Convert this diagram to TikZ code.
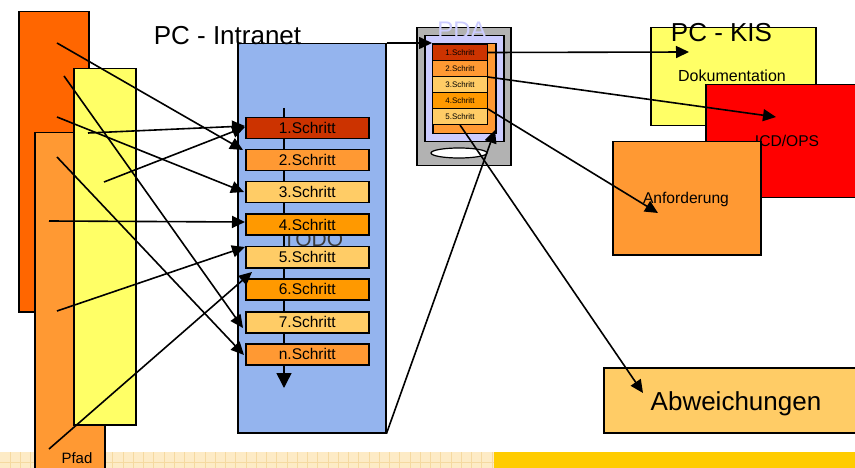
\documentclass[tikz,border=0pt]{standalone}
\usepackage{fontspec}
\setmainfont{Liberation Sans}
\usetikzlibrary{arrows.meta,shapes.geometric}
\definecolor{dorange}{HTML}{FF6600}
\definecolor{lorange}{HTML}{FF9933}
\definecolor{yell}{HTML}{FFFF66}
\definecolor{intrablue}{HTML}{94B4EE}
\definecolor{cone}{HTML}{CC3300}
\definecolor{cthree}{HTML}{FFCC66}
\definecolor{cfour}{HTML}{FF9900}
\definecolor{pdagray}{HTML}{B2B2B2}
\definecolor{lav}{HTML}{CCCCFF}
\definecolor{beige}{HTML}{FDEBC6}
\definecolor{gridc}{HTML}{F5D9A0}
\definecolor{bandyellow}{HTML}{FFCC00}
\definecolor{todogray}{HTML}{3A3A3A}
\begin{document}
\begin{tikzpicture}[x=1pt,y=-1pt,
  box/.style={draw=black, line width=1.5pt, inner sep=0pt, anchor=north west},
  conn/.style={line width=1.6pt, -{Triangle[length=13pt,width=12pt]}},
  stepbox/.style={box, minimum width=123pt, minimum height=21pt, font=\fontsize{15.5}{15.5}\selectfont},
  pdastep/.style={box, line width=1pt, minimum width=55pt, minimum height=16pt, font=\fontsize{8}{8}\selectfont},
  bigtxt/.style={font=\fontsize{26}{26}\selectfont, anchor=base, inner sep=0pt},
  midtxt/.style={font=\fontsize{15.6}{15.6}\selectfont, anchor=base, inner sep=0pt}]
\useasboundingbox (0,0) rectangle (855,468);
% bottom band
\fill[beige] (0,452) rectangle (494,468);
\foreach \i in {1,...,48} \draw[gridc, line width=0.7pt] ({\i*10.25},452) -- ({\i*10.25},468);
\draw[gridc, line width=0.7pt] (0,462) -- (494,462);
\fill[bandyellow] (494,452) rectangle (855,468);
% left stack
\node[box, fill=dorange, minimum width=70pt, minimum height=300pt] (back) at (18,11) {};
\node[box, fill=lorange, minimum width=70pt, minimum height=345pt] (pfad) at (34,132) {};
\node[box, fill=yell, minimum width=62pt, minimum height=356pt] (gelb) at (73,68) {};
\node[midtxt, font=\fontsize{15}{15}\selectfont] (pfadtxt) at (77,463) {Pfad};
% intranet
\node[box, fill=intrablue, minimum width=148pt, minimum height=389pt] (intra) at (237,43) {};
\node[bigtxt] (intratxt) at (227.5,45) {PC - Intranet};
\node[font=\fontsize{21}{21}\selectfont, text=todogray, anchor=base, inner sep=0pt] (todo) at (313,247) {TODO};
\coordinate (vtop) at (284,108);
\coordinate (vbot) at (284,388);
\draw[line width=1.5pt, -{Triangle[length=15pt,width=15pt]}] (vtop) -- (vbot);
\node[stepbox, fill=cone] (s1) at (245,117) {1.Schritt};
\node[stepbox, fill=lorange] (s2) at (245,149) {2.Schritt};
\node[stepbox, fill=cthree] (s3) at (245,181) {3.Schritt};
\node[stepbox, fill=cfour] (s4) at (245,213.5) {4.Schritt};
\node[stepbox, fill=cthree] (s5) at (245,246) {5.Schritt};
\node[stepbox, fill=cfour] (s6) at (245,278) {6.Schritt};
\node[stepbox, fill=cthree] (s7) at (245,311) {7.Schritt};
\node[stepbox, fill=lorange] (sn) at (245,343) {n.Schritt};
% PDA
\node[box, fill=pdagray, minimum width=94pt, minimum height=138pt] (pda) at (416,27) {};
\node[box, fill=lav, minimum width=79pt, minimum height=106pt] (pdascr) at (424,35) {};
\node[font=\fontsize{24}{24}\selectfont, text=lav, anchor=base, inner sep=0pt] (pdatxt) at (462,39) {PDA};
\node[box, fill=lorange, minimum width=63pt, minimum height=90pt] (pdaback) at (432,43) {};
\node[pdastep, fill=cone] (p1) at (432,44) {1.Schritt};
\node[pdastep, fill=lorange] (p2) at (432,60) {2.Schritt};
\node[pdastep, fill=cthree] (p3) at (432,76) {3.Schritt};
\node[pdastep, fill=cfour] (p4) at (432,92) {4.Schritt};
\node[pdastep, fill=cthree] (p5) at (432,108) {5.Schritt};
\node[draw, fill=white, ellipse, line width=1.2pt, minimum width=56pt, minimum height=10pt, inner sep=0pt] (knopf) at (459,153) {};
% KIS
\node[box, fill=yell, minimum width=165pt, minimum height=98pt] (doku) at (650,27) {};
\node[bigtxt] (kis) at (721.5,42) {PC - KIS};
\node[midtxt, font=\fontsize{16}{16}\selectfont] (dokutxt) at (732,82) {Dokumentation};
\node[box, fill=red, minimum width=160pt, minimum height=113pt] (icd) at (705,84) {};
\node[midtxt] (icdtxt) at (787,147) {ICD/OPS};
\node[box, fill=lorange, minimum width=148pt, minimum height=113pt] (anf) at (612,141) {};
\node[midtxt] (anftxt) at (686,204) {Anforderung};
\node[box, fill=cthree, minimum width=260pt, minimum height=65pt] (abw) at (603,367) {};
\node[bigtxt] (abwtxt) at (736,410) {Abweichungen};
% connector ends
\coordinate (l1) at (57,43);   \coordinate (e1) at (243,150);
\coordinate (l2) at (64,76);   \coordinate (e2) at (243,328);
\coordinate (l3) at (57,117);  \coordinate (e3) at (244,192);
\coordinate (l4) at (57,157);  \coordinate (e4) at (244,355);
\coordinate (l5) at (49,221);  \coordinate (e5) at (245,222);
\coordinate (l6) at (88,133);  \coordinate (e6) at (245,126);
\coordinate (l7) at (104,182); \coordinate (e7) at (245,127);
\coordinate (l8) at (57,311);  \coordinate (e8) at (245,247);
\coordinate (l9) at (49,449);  \coordinate (e9) at (252,272);
\coordinate (e11) at (432,43);
\coordinate (e12) at (495,130);
\coordinate (e13) at (689,52);
\coordinate (e14) at (776,117);
\coordinate (e15) at (658,213);
\coordinate (e16) at (643,393);
\draw[conn] (l1) -- (e1);
\draw[conn] (l2) -- (e2);
\draw[conn] (l3) -- (e3);
\draw[conn] (l4) -- (e4);
\draw[conn] (l5) -- (e5);
\draw[conn] (l6) -- (e6);
\draw[conn] (l7) -- (e7);
\draw[conn] (l8) -- (e8);
\draw[conn] (l9) -- (e9);
\draw[conn] (intra.north east) -- (e11);
\draw[conn] (intra.south east) -- (e12);
\draw[conn] (p1.east) -- (e13);
\draw[conn] (p2.south east) -- (e14);
\draw[conn] (p4.south east) -- (e15);
\draw[conn] (p5.south) -- (e16);
\end{tikzpicture}
\end{document}
